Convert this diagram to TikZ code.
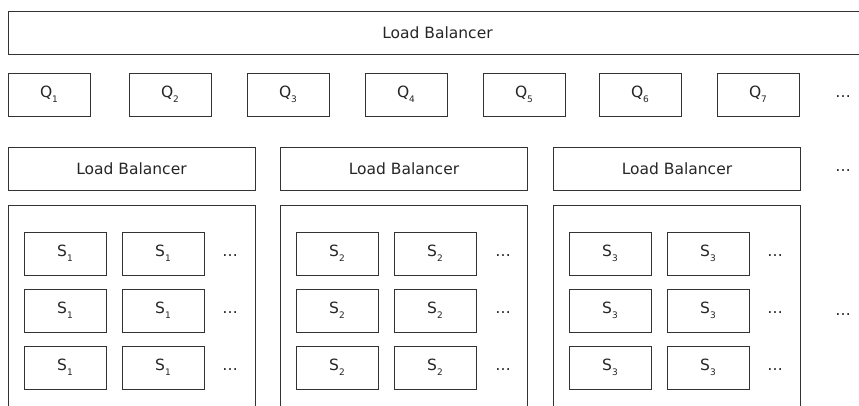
\documentclass[tikz,border=0pt]{standalone}
\usepackage{fontspec}
\setmainfont{DejaVu Sans}
\newcommand{\mysub}[1]{\raisebox{-0.32em}{\fontsize{9pt}{10pt}\selectfont #1}}
\tikzset{
  x=1pt,y=-1pt,
  every node/.style={font=\fontsize{15.5pt}{17pt}\selectfont, text=black!85},
  boxe/.style={draw=black!80, line width=1pt, inner sep=0pt, minimum width=82pt, minimum height=43pt},
  lbbox/.style={draw=black!80, line width=1pt, inner sep=0pt, minimum width=247pt, minimum height=43pt},
  contbox/.style={draw=black!80, line width=1pt, inner sep=0pt, minimum width=247pt, minimum height=215pt},
  dotsn/.style={inner sep=0pt}
}
\begin{document}
\begin{tikzpicture}
\useasboundingbox (0,0) rectangle (859,405);
\clip (0,0) rectangle (859,405);
\fill[white] (0,0) rectangle (859,405);
% top load balancer
\node[draw=black!80, line width=1pt, inner sep=0pt, minimum width=859pt, minimum height=43pt] (lbtop) at (437.5,32.5) {Load Balancer};
% queues
\foreach \i/\x in {1/49,2/170,3/288,4/406,5/524,6/640,7/758}{
  \node[boxe] (q\i) at (\x,94.5) {Q\mysub{\i}};
}
\node[dotsn] (qdots) at (843,97) {…};
% middle load balancers
\node[lbbox] (lb1) at (131.5,168.5) {Load Balancer};
\node[lbbox] (lb2) at (404,168.5) {Load Balancer};
\node[lbbox] (lb3) at (677,168.5) {Load Balancer};
\node[dotsn] (lbdots) at (843,171) {…};
% containers
\node[contbox] (c1) at (131.5,313) {};
\node[contbox] (c2) at (404,313) {};
\node[contbox] (c3) at (677,313) {};
\node[dotsn] (cdots) at (843,315) {…};
% servers
\foreach \k/\xa/\xb/\xd in {1/65/163/230, 2/337/435/503, 3/610/708/775}{
  \foreach \r/\y in {1/253.5, 2/310.5, 3/367.5}{
    \node[boxe] (s\k-\r-a) at (\xa,\y) {S\mysub{\k}};
    \node[boxe] (s\k-\r-b) at (\xb,\y) {S\mysub{\k}};
    \node[dotsn] (s\k-\r-d) at (\xd,\y+2.5) {…};
  }
}
\end{tikzpicture}
\end{document}
